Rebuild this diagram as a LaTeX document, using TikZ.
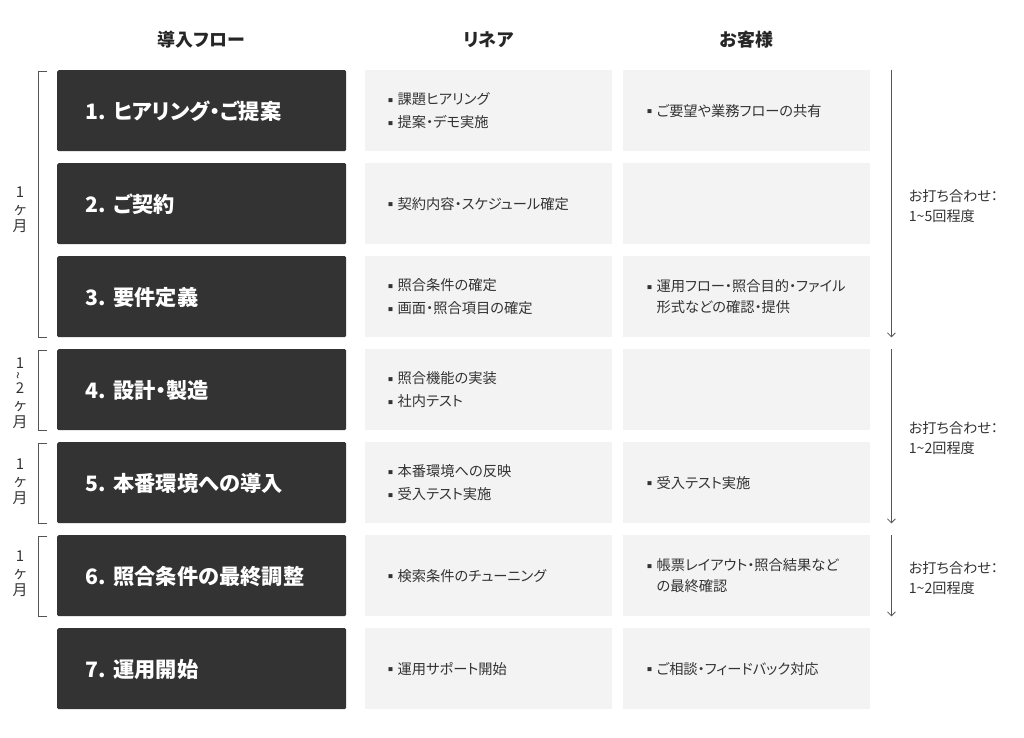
\documentclass[tikz,border=0pt]{standalone}
\usepackage{fontspec}
\setmainfont{Noto Sans CJK JP}[RawFeature={+palt}]
\usetikzlibrary{arrows.meta}
\definecolor{darkfill}{HTML}{333333}
\definecolor{lightfill}{HTML}{F3F3F3}
\definecolor{ink}{HTML}{333333}
\definecolor{linegray}{HTML}{555555}
\newcommand\blt{\raisebox{0.3ex}{\fontsize{5}{5}\selectfont ■}\hspace{4.5bp}}
\newcommand\bltgap{\hphantom{\blt}}
\tikzset{
  darkbox/.style={fill=darkfill, draw=none, rounded corners=1.5bp, minimum width=289bp, minimum height=81bp, anchor=north west, inner sep=0pt},
  lightbox/.style={fill=lightfill, draw=none, minimum width=247bp, minimum height=81bp, anchor=north west, inner sep=0pt},
  steptext/.style={text=white, font=\fontsize{21.3}{24}\selectfont\bfseries, anchor=west, inner sep=0pt},
  celltext/.style={text=ink, font=\fontsize{14.3}{23}\selectfont, align=left, anchor=west, inner sep=0pt},
  wraptext/.style={celltext, font=\fontsize{14.3}{21}\selectfont},
  headtext/.style={text=black!85, font=\fontsize{18}{20}\selectfont\bfseries, inner sep=0pt},
  bracketline/.style={draw=linegray, line width=0.8bp},
  periodlab/.style={text=ink, font=\fontsize{15}{17}\selectfont, align=center, inner sep=0pt},
  meetarrow/.style={draw=linegray, line width=0.8bp, -{Straight Barb[length=4bp,width=8bp]}},
  meetlab/.style={text=ink, font=\fontsize{14.2}{20}\selectfont, align=left, inner sep=0pt, anchor=west},
}
\begin{document}
\begin{tikzpicture}[x=1bp, y=-1bp]
\useasboundingbox (0,0) rectangle (1024,738);
% headers
\node[headtext] (h1) at (201.5,40) {導入フロー};
\node[headtext] (h2) at (488.5,40) {リネア};
\node[headtext] (h3) at (746.5,40) {お客様};
% step boxes
\foreach \i in {1,...,7}{
  \pgfmathsetmacro\yy{70+93*(\i-1)}
  \node[darkbox] (s\i) at (57,\yy) {};
  \node[lightbox] (m\i) at (365,\yy) {};
  \node[lightbox] (r\i) at (623,\yy) {};
}
% step texts
\node[steptext] (t1) at ([xshift=28bp,yshift=-1bp]s1.west) {1.\hspace{8bp}ヒアリング・ご提案};
\node[steptext] (t2) at ([xshift=28bp,yshift=-1bp]s2.west) {2.\hspace{8bp}ご契約};
\node[steptext] (t3) at ([xshift=28bp,yshift=-1bp]s3.west) {3.\hspace{8bp}要件定義};
\node[steptext] (t4) at ([xshift=28bp,yshift=-1bp]s4.west) {4.\hspace{8bp}設計・製造};
\node[steptext] (t5) at ([xshift=28bp,yshift=-1bp]s5.west) {5.\hspace{8bp}本番環境への導入};
\node[steptext] (t6) at ([xshift=28bp,yshift=-1bp]s6.west) {6.\hspace{8bp}照合条件の最終調整};
\node[steptext] (t7) at ([xshift=28bp,yshift=-1bp]s7.west) {7.\hspace{8bp}運用開始};
% Linea column
\node[celltext] (mt1) at ([xshift=23bp]m1.west) {\blt 課題ヒアリング\\\blt 提案・デモ実施};
\node[celltext] (mt2) at ([xshift=23bp]m2.west) {\blt 契約内容・スケジュール確定};
\node[celltext] (mt3) at ([xshift=23bp]m3.west) {\blt 照合条件の確定\\\blt 画面・照合項目の確定};
\node[celltext] (mt4) at ([xshift=23bp]m4.west) {\blt 照合機能の実装\\\blt 社内テスト};
\node[celltext] (mt5) at ([xshift=23bp]m5.west) {\blt 本番環境への反映\\\blt 受入テスト実施};
\node[celltext] (mt6) at ([xshift=23bp]m6.west) {\blt 検索条件のチューニング};
\node[celltext] (mt7) at ([xshift=23bp]m7.west) {\blt 運用サポート開始};
% Customer column
\node[celltext] (rt1) at ([xshift=24bp]r1.west) {\blt ご要望や業務フローの共有};
\node[wraptext] (rt3) at ([xshift=24bp]r3.west) {\blt 運用フロー・照合目的・ファイル\\\bltgap 形式などの確認・提供};
\node[celltext] (rt5) at ([xshift=24bp]r5.west) {\blt 受入テスト実施};
\node[wraptext] (rt6) at ([xshift=24bp]r6.west) {\blt 帳票レイアウト・照合結果など\\\bltgap の最終確認};
\node[celltext] (rt7) at ([xshift=24bp]r7.west) {\blt ご相談・フィードバック対応};
% left brackets
\draw[bracketline] ([xshift=-10bp,yshift=-1bp]s1.north west) -- ([xshift=-19bp,yshift=-1bp]s1.north west) -- ([xshift=-19bp]s3.south west) -- ([xshift=-10bp]s3.south west);
\draw[bracketline] ([xshift=-10bp,yshift=-1bp]s4.north west) -- ([xshift=-19bp,yshift=-1bp]s4.north west) -- ([xshift=-19bp]s4.south west) -- ([xshift=-10bp]s4.south west);
\draw[bracketline] ([xshift=-10bp,yshift=-1bp]s5.north west) -- ([xshift=-19bp,yshift=-1bp]s5.north west) -- ([xshift=-19bp]s5.south west) -- ([xshift=-10bp]s5.south west);
\draw[bracketline] ([xshift=-10bp,yshift=-1bp]s6.north west) -- ([xshift=-19bp,yshift=-1bp]s6.north west) -- ([xshift=-19bp]s6.south west) -- ([xshift=-10bp]s6.south west);
% period labels
\node[periodlab] (p1) at (20,210) {1\\ヶ\\月};
\node[periodlab] (p2) at (20,393) {1\\[-6bp]\rotatebox{90}{\fontsize{14}{14}\selectfont\textasciitilde}\\[-3bp]2\\ヶ\\月};
\node[periodlab] (p3) at (20,482) {1\\ヶ\\月};
\node[periodlab] (p4) at (20,574) {1\\ヶ\\月};
% meeting arrows
\draw[meetarrow] ([xshift=21bp]r1.north east) -- ([xshift=21bp]r3.south east)
  node[meetlab, pos=0.5, xshift=17bp, yshift=-2bp] (a1) {お打ち合わせ：\\1\textasciitilde 5回程度};
\draw[meetarrow] ([xshift=21bp]r4.north east) -- ([xshift=21bp]r5.south east)
  node[meetlab, pos=0.5, xshift=17bp, yshift=-2bp] (a2) {お打ち合わせ：\\1\textasciitilde 2回程度};
\draw[meetarrow] ([xshift=21bp]r6.north east) -- ([xshift=21bp]r6.south east)
  node[meetlab, pos=0.5, xshift=17bp, yshift=-2bp] (a3) {お打ち合わせ：\\1\textasciitilde 2回程度};
\end{tikzpicture}
\end{document}
